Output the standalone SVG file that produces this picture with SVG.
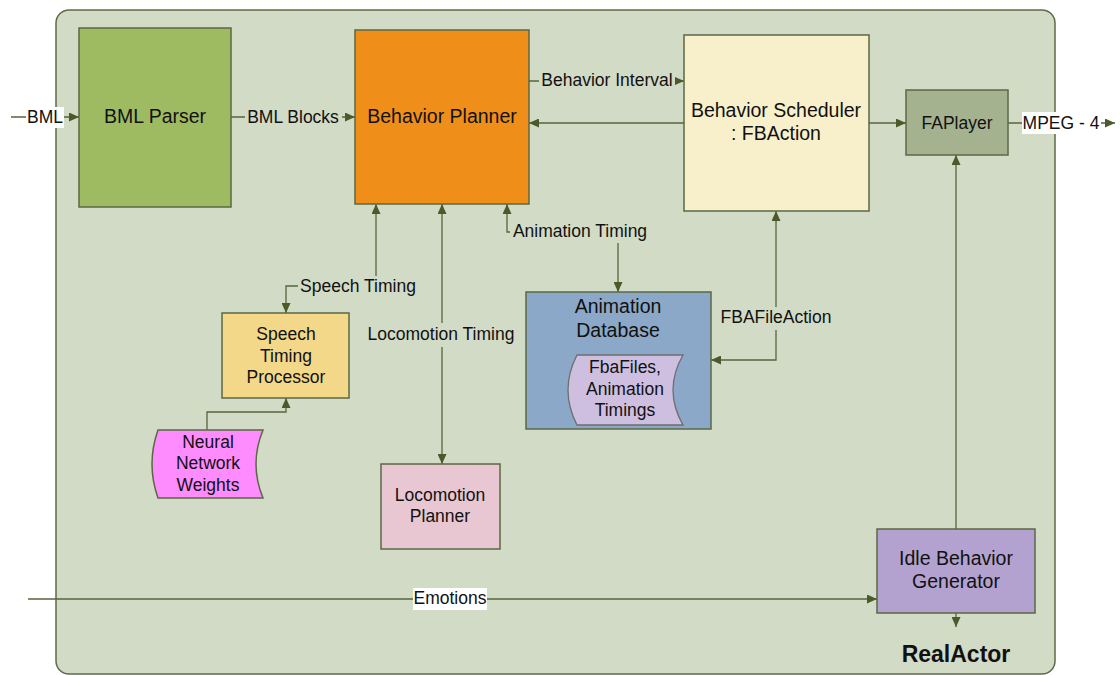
<svg xmlns="http://www.w3.org/2000/svg" width="1120" height="675" viewBox="0 0 1120 675">
<defs>
<marker id="ah" viewBox="0 0 10 9" refX="10" refY="4.5" markerWidth="10" markerHeight="9" markerUnits="userSpaceOnUse" orient="auto-start-reverse">
<path d="M0,0 L10,4.5 L0,9 z" fill="#4a5a2a"/>
</marker>
<style>
.t{font-family:"Liberation Sans",Arial,sans-serif;fill:#111;text-anchor:middle}
.big{font-size:19.5px}
.sm{font-size:17.5px}
.node{stroke:#5b6843;stroke-width:1.5}
.c{fill:none;stroke:#56653b;stroke-width:1.3}
.lbg{fill:#d1dbc6}
.wbg{fill:#ffffff}
</style>
</defs>
<rect x="0" y="0" width="1120" height="675" fill="#ffffff"/>
<g id="container">
<rect x="56" y="10" width="999" height="664" rx="13" fill="#d1dbc6" stroke="#5e6b46" stroke-width="1.5"/>
<text class="t" x="956" y="662" style="font-size:23px;font-weight:bold">RealActor</text>
</g>
<g id="connectors">
<path class="c" d="M11,117 L79,117" marker-end="url(#ah)"/>
<path class="c" d="M231,117 L355,117" marker-end="url(#ah)"/>
<path class="c" d="M529,81 L684,81" marker-end="url(#ah)"/>
<path class="c" d="M684,123 L529,123" marker-end="url(#ah)"/>
<path class="c" d="M869,123 L906,123" marker-end="url(#ah)"/>
<path class="c" d="M1008,123 L1115,123" marker-end="url(#ah)"/>
<path class="c" d="M376,204 L376,286 L286,286 L286,313" marker-start="url(#ah)" marker-end="url(#ah)"/>
<path class="c" d="M207,430 L207,412 L286,412 L286,398" marker-end="url(#ah)"/>
<path class="c" d="M442,204 L442,464" marker-start="url(#ah)" marker-end="url(#ah)"/>
<path class="c" d="M507,204 L507,232 L618,232 L618,292" marker-start="url(#ah)" marker-end="url(#ah)"/>
<path class="c" d="M776,211 L776,360 L711,360" marker-start="url(#ah)" marker-end="url(#ah)"/>
<path class="c" d="M28,599 L877,599" marker-end="url(#ah)"/>
<path class="c" d="M956,529 L956,155" marker-end="url(#ah)"/>
<path class="c" d="M956,613 L956,627" marker-end="url(#ah)"/>
<rect class="wbg" x="26" y="107" width="38" height="21"/>
<text class="t sm" x="45" y="123">BML</text>
<rect class="lbg" x="245" y="107" width="97" height="21"/>
<text class="t sm" x="293" y="123">BML Blocks</text>
<rect class="lbg" x="539" y="71" width="136" height="21"/>
<text class="t sm" x="607" y="86">Behavior Interval</text>
<rect class="wbg" x="1022" y="112" width="79" height="22"/>
<text class="t sm" x="1061" y="129">MPEG - 4</text>
<rect class="lbg" x="298" y="276" width="121" height="21"/>
<text class="t sm" x="358" y="292">Speech Timing</text>
<rect class="lbg" x="364" y="323" width="154" height="24"/>
<text class="t sm" x="441" y="340">Locomotion Timing</text>
<rect class="lbg" x="510" y="221" width="140" height="22"/>
<text class="t sm" x="580" y="237">Animation Timing</text>
<rect class="lbg" x="718" y="307" width="116" height="23"/>
<text class="t sm" x="776" y="323">FBAFileAction</text>
<rect class="wbg" x="413" y="588" width="74" height="22"/>
<text class="t sm" x="450" y="604">Emotions</text>
</g>
<g id="bml-parser">
<rect class="node" x="79" y="28" width="152" height="179" fill="#9fbb62"/>
<text class="t big" x="155" y="123">BML Parser</text>
</g>
<g id="behavior-planner">
<rect class="node" x="355" y="30" width="174" height="174" fill="#f08e1a"/>
<text class="t big" x="442" y="123">Behavior Planner</text>
</g>
<g id="behavior-scheduler">
<rect class="node" x="684" y="35" width="185" height="176" fill="#f8efcb"/>
<text class="t big" x="776" y="117">Behavior Scheduler</text>
<text class="t big" x="776" y="140">: FBAction</text>
</g>
<g id="faplayer">
<rect class="node" x="906" y="90" width="102" height="65" fill="#a5b28f"/>
<text class="t sm" x="957" y="129">FAPlayer</text>
</g>
<g id="speech-timing-processor">
<rect class="node" x="222" y="313" width="127" height="85" fill="#f2d888"/>
<text class="t sm" x="286" y="340">Speech</text>
<text class="t sm" x="286" y="362">Timing</text>
<text class="t sm" x="286" y="383">Processor</text>
</g>
<g id="neural-network-weights">
<path class="node" d="M158,430 L263,430 Q249,464 263,498 L158,498 Q146,464 158,430 Z" fill="#ff8cff"/>
<text class="t sm" x="208" y="448">Neural</text>
<text class="t sm" x="208" y="469">Network</text>
<text class="t sm" x="208" y="491">Weights</text>
</g>
<g id="locomotion-planner">
<rect class="node" x="381" y="464" width="119" height="85" fill="#e8c6d2"/>
<text class="t sm" x="440" y="501">Locomotion</text>
<text class="t sm" x="440" y="522">Planner</text>
</g>
<g id="animation-database">
<rect class="node" x="526" y="292" width="185" height="137" fill="#8ba8c8"/>
<text class="t big" x="618" y="313">Animation</text>
<text class="t big" x="618" y="337">Database</text>
</g>
<g id="fbafiles">
<path d="M577,355 L683,355 Q663,390 683,425 L577,425 Q559,390 577,355 Z" fill="#cebfe0" stroke="#6e6e6e" stroke-width="1.3"/>
<text class="t sm" x="625" y="373">FbaFiles,</text>
<text class="t sm" x="625" y="395">Animation</text>
<text class="t sm" x="625" y="416">Timings</text>
</g>
<g id="idle-behavior-generator">
<rect class="node" x="877" y="529" width="158" height="84" fill="#b3a2cf"/>
<text class="t big" x="956" y="565">Idle Behavior</text>
<text class="t big" x="956" y="588">Generator</text>
</g>
</svg>
